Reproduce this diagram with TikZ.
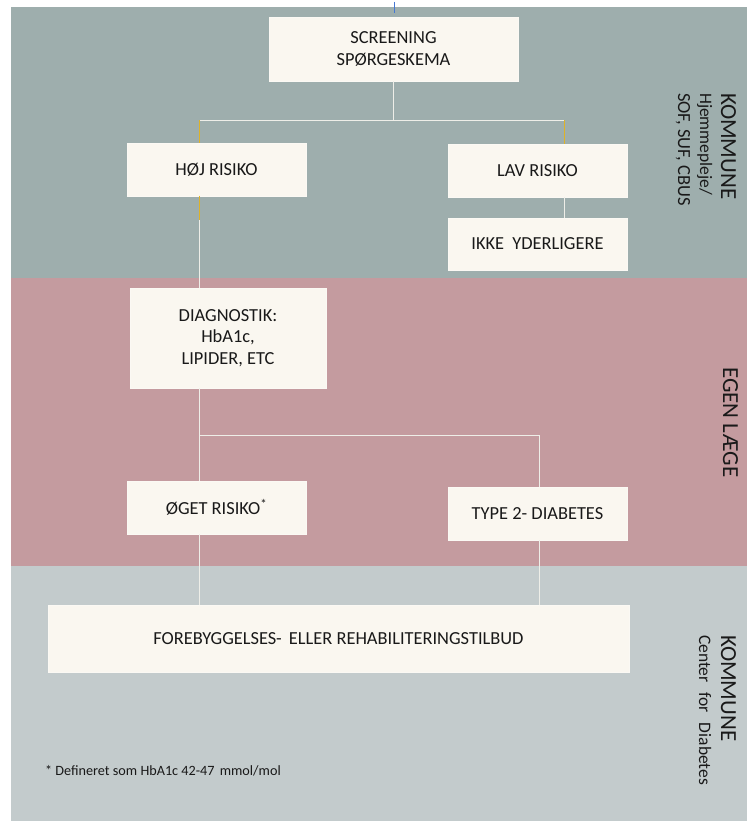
\documentclass[tikz,border=0pt]{standalone}
\usepackage{fontspec}
\setmainfont{Carlito}
\definecolor{bandtop}{RGB}{158,174,173}
\definecolor{bandmid}{RGB}{196,155,159}
\definecolor{bandbot}{RGB}{195,203,204}
\definecolor{cream}{RGB}{250,247,240}
\definecolor{linecol}{RGB}{238,238,232}
\definecolor{ylw}{RGB}{222,178,40}
\definecolor{tickblue}{RGB}{70,120,210}
\definecolor{txt}{RGB}{25,25,25}
\tikzset{
  boxnode/.style={fill=cream, draw=cream!70!white, line width=0.6pt, inner sep=0pt, align=center, text=txt,
    font=\fontsize{18.4}{21.5}\selectfont},
  conn/.style={draw=linecol, line width=1.1pt},
  yconn/.style={draw=ylw, line width=1.5pt},
  bigside/.style={rotate=-90, anchor=base west, inner sep=0pt, text=txt, font=\fontsize{23}{23}\selectfont},
  smallside/.style={rotate=-90, anchor=base west, inner sep=0pt, text=txt, font=\fontsize{17.5}{17.5}\selectfont}
}
\begin{document}
\begin{tikzpicture}[x=1pt,y=-1pt]
\useasboundingbox (0,0) rectangle (747,821);
\fill[white] (0,0) rectangle (747,821);
% bands
\fill[bandtop] (11,7) rectangle (747,278);
\fill[bandmid] (11,278) rectangle (747,566);
\fill[bandbot] (11,566) rectangle (747,821);
% blue tick
\draw[tickblue, line width=1.2pt] (394.5,2) -- (394.5,13);

% boxes
\node[boxnode, minimum width=249pt, minimum height=64pt] (scr) at (393.5,49) {SCREENING\\SPØRGESKEMA};
\node[boxnode, minimum width=179pt, minimum height=53pt] (hoj) at (216.5,169.5) {HØJ RISIKO};
\node[boxnode, minimum width=179pt, minimum height=53pt] (lav) at (537.5,170.5) {LAV RISIKO};
\node[boxnode, minimum width=179pt, minimum height=52pt] (ikke) at (537.5,244) {IKKE\hspace{4pt} YDERLIGERE};
\node[boxnode, minimum width=196pt, minimum height=100pt] (diag) at (228,338) {DIAGNOSTIK:\\HbA1c,\\LIPIDER, ETC};
\node[boxnode, minimum width=179pt, minimum height=53pt] (oget) at (216.5,507.5) {ØGET RISIKO\textsuperscript{*}};
\node[boxnode, minimum width=179pt, minimum height=53pt] (type) at (537.5,513.5) {TYPE 2- DIABETES};
\node[boxnode, minimum width=581pt, minimum height=67pt] (fore) at (338.5,638.5) {FOREBYGGELSES-\hspace{3pt} ELLER REHABILITERINGSTILBUD};

% junction coordinates
\coordinate (j1) at (393.5,120.5);
\coordinate (jl) at (199.5,120.5);
\coordinate (jr) at (564.5,120.5);
\coordinate (hojtop) at (199.5,143.5);
\coordinate (hojbot) at (199.5,195.5);
\coordinate (hy) at (199.5,220);
\coordinate (j2) at (199.5,435.5);
\coordinate (j2r) at (539.5,435.5);

% connectors
\draw[conn] (scr.south) -- (j1);
\draw[conn] (jl) -- (jr);
\draw[yconn] (jl) -- (hojtop);
\draw[yconn] (jr) -- (jr |- lav.north);
\draw[yconn] (hojbot) -- (hy);
\draw[conn] (hy) -- (hy |- diag.north);
\draw[conn] (jr |- lav.south) -- (jr |- ikke.north);
\draw[conn] (j2 |- diag.south) -- (j2 |- oget.north);
\draw[conn] (j2) -- (j2r);
\draw[conn] (j2r) -- (j2r |- type.north);
\draw[conn] (j2 |- oget.south) -- (j2 |- fore.north);
\draw[conn] (j2r |- type.south) -- (j2r |- fore.north);

% side labels
\node[bigside] (k1) at (721,93) {KOMMUNE};
\node[smallside] (k1a) at (700,93) {Hjemmepleje/};
\node[smallside, font=\fontsize{18.5}{18.5}\selectfont] (k1b) at (678,93) {SOF, SUF, CBUS};
\node[bigside] (eg) at (723,367) {EGEN LÆGE};
\node[bigside] (k2) at (721,635) {KOMMUNE};
\node[smallside] (k2a) at (699,635) {Center\hspace{6pt} for\hspace{6pt} Diabetes};

% footnote
\node[anchor=base west, inner sep=0pt, text=txt, font=\fontsize{14.2}{14.2}\selectfont] (fn) at (45,775) {* Defineret som HbA1c 42-47\hspace{2pt} mmol/mol};
\end{tikzpicture}
\end{document}
